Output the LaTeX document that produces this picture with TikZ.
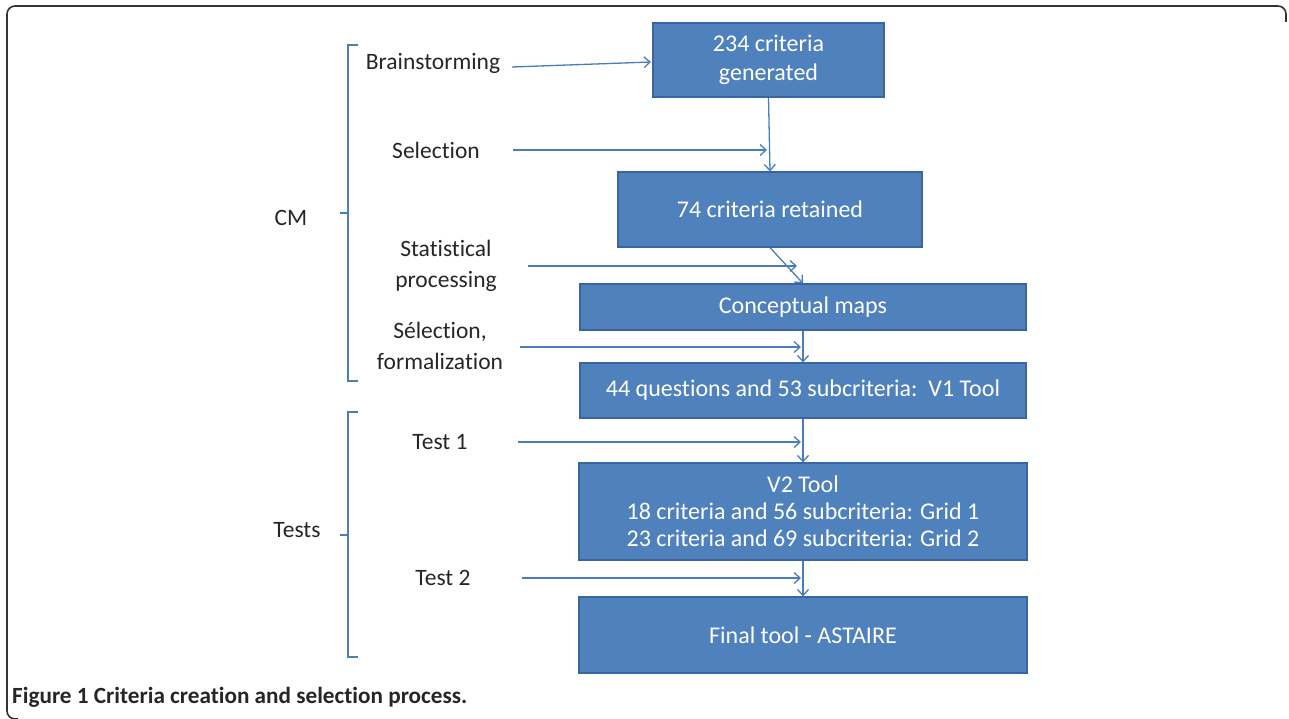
\documentclass[tikz,border=0pt]{standalone}
\usepackage{fontspec}
\setmainfont{Carlito}[Ligatures={NoCommon}]
\usetikzlibrary{arrows.meta}
\definecolor{boxfill}{HTML}{4F81BD}
\definecolor{boxdraw}{HTML}{3A65A0}
\definecolor{arr}{HTML}{4A7EBB}
\definecolor{frame}{HTML}{333333}
\begin{document}
\begin{tikzpicture}[x=1pt,y=-1pt,
  box/.style={draw=boxdraw, line width=1.2pt, fill=boxfill, text=white,
    font=\fontsize{24}{27}\selectfont, align=center, inner sep=0pt},
  lbl/.style={font=\fontsize{23.5}{31.5}\selectfont, align=center, inner sep=0pt, text=black!85},
  arrow/.style={draw=arr, line width=1.3pt, -{Straight Barb[length=6pt,width=11pt]}},
  brk/.style={draw=arr, line width=1.3pt},
]
\useasboundingbox (0,0) rectangle (1289,719);
% frame
\draw[frame, line width=1.6pt, rounded corners=8pt] (18,719) -- (7,719) -- (7,6) -- (1286,6) -- (1286,22);

% boxes
\node[box, minimum width=231pt, minimum height=74pt, font=\fontsize{24}{29}\selectfont] (b1) at (768.5,60) {234 criteria\\generated};
\node[box, minimum width=304pt, minimum height=75pt] (b2) at (770,209.5) {74 criteria retained};
\node[box, minimum width=446pt, minimum height=46pt] (b3) at (803,307) {Conceptual maps};
\node[box, minimum width=446pt, minimum height=55pt] (b4) at (803,390.5) {44 questions and 53 subcriteria:\ \ V1 Tool};
\node[box, minimum width=448pt, minimum height=97pt] (b5) at (803,511.5) {V2 Tool\\18 criteria and 56 subcriteria: Grid 1\\23 criteria and 69 subcriteria: Grid 2};
\node[box, minimum width=448pt, minimum height=76pt] (b6) at (803,635) {Final tool - ASTAIRE};

% vertical connectors
\draw[arrow] (b1.south) -- (b2.north);
\draw[arrow] (b2.south) -- (b3.north);
\draw[arrow] (b3.south) -- (b4.north);
\draw[arrow] (b4.south) -- (b5.north);
\draw[arrow] (b5.south) -- (b6.north);

% labels
\node[lbl] (lBrain) at (433,63) {Brainstorming};
\node[lbl] (lSel) at (436,150) {Selection};
\node[lbl] (lStat) at (446,266) {Statistical\\processing};
\node[lbl] (lForm) at (440,346) {Sélection,\\formalization};
\node[lbl] (lT1) at (440,442) {Test 1};
\node[lbl] (lT2) at (443,578) {Test 2};
\node[lbl] (lCM) at (291,218) {CM};
\node[lbl] (lTests) at (297,530) {Tests};

% horizontal arrows
\coordinate (s1) at (512,67);
\coordinate (e1) at (651,62);
\coordinate (s2) at (513,150);
\coordinate (e2) at (767,150);
\coordinate (s3) at (528,266);
\coordinate (e3) at (797,266);
\coordinate (s4) at (520,347);
\coordinate (e4) at (801,347);
\coordinate (s5) at (518,442);
\coordinate (e5) at (801,442);
\coordinate (s6) at (522,578);
\coordinate (e6) at (801,578);
\draw[arrow] (s1) -- (e1);
\draw[arrow] (s2) -- (e2);
\draw[arrow] (s3) -- (e3);
\draw[arrow] (s4) -- (e4);
\draw[arrow] (s5) -- (e5);
\draw[arrow] (s6) -- (e6);

% brackets
\draw[brk] (358,45) -- (348,45) -- (348,381) -- (358,381);
\draw[brk] (348,213) -- (340,213);
\draw[brk] (358,412) -- (348,412) -- (348,657) -- (358,657);
\draw[brk] (348,535) -- (340,535);

% caption
\node[anchor=west, inner sep=0pt, font=\fontsize{23.2}{26}\selectfont\bfseries, text=black!85] (cap) at (12,697) {Figure 1 Criteria creation and selection process.};
\end{tikzpicture}
\end{document}
